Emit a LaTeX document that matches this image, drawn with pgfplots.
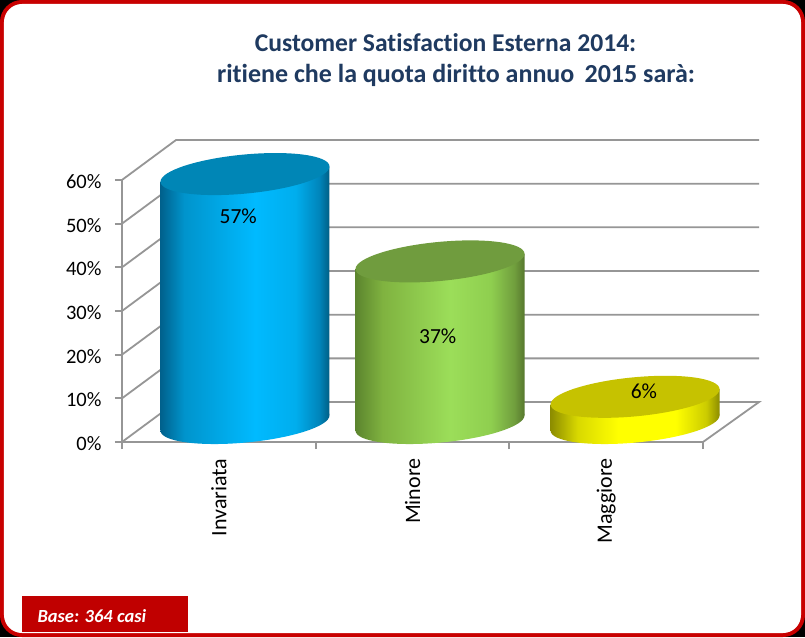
\documentclass[border=0pt]{standalone}
\usepackage{fontspec}
\setmainfont[Ligatures=NoCommon]{Carlito}
\usepackage{pgfplots}
\pgfplotsset{compat=1.18}

\definecolor{gridgray}{HTML}{969696}
\definecolor{framered}{HTML}{C80000}
\definecolor{boxred}{HTML}{C00000}
\definecolor{titleblue}{HTML}{1F3A60}
\definecolor{topblue}{HTML}{0086B6}
\definecolor{topgreen}{HTML}{709C3E}
\definecolor{topyellow}{HTML}{C6C200}

% cylinder side shadings (stops 25bp..75bp span the bar)
\pgfdeclarehorizontalshading{cylblue}{100bp}{rgb(0bp)=(0,0.38,0.55); rgb(25bp)=(0,0.38,0.55); rgb(32bp)=(0,0.58,0.8); rgb(53bp)=(0,0.73,1); rgb(65bp)=(0,0.68,0.93); rgb(72bp)=(0,0.52,0.73); rgb(75bp)=(0,0.37,0.52); rgb(100bp)=(0,0.37,0.52)}
\pgfdeclarehorizontalshading{cylgreen}{100bp}{rgb(0bp)=(0.36,0.52,0.18); rgb(25bp)=(0.36,0.52,0.18); rgb(33bp)=(0.5,0.7,0.25); rgb(53bp)=(0.61,0.87,0.35); rgb(65bp)=(0.56,0.81,0.31); rgb(72bp)=(0.44,0.62,0.24); rgb(75bp)=(0.34,0.47,0.18); rgb(100bp)=(0.34,0.47,0.18)}
\pgfdeclarehorizontalshading{cylyellow}{100bp}{rgb(0bp)=(0.55,0.55,0); rgb(25bp)=(0.55,0.55,0); rgb(33bp)=(0.85,0.85,0); rgb(45bp)=(1,1,0); rgb(62bp)=(1,1,0); rgb(71bp)=(0.8,0.8,0); rgb(75bp)=(0.55,0.55,0); rgb(100bp)=(0.55,0.55,0)}

% slanted ellipse, same for the top and the base of a cylinder
\newcommand{\cylpath}{\pgfpathellipse{\pgfpointorigin}{\pgfpoint{84.5pt}{7.6pt}}{\pgfpoint{0pt}{19.6pt}}}
\pgfdeclareplotmark{cyltop}{\cylpath\pgfusepathqfill}
\pgfdeclareplotmark{basea}{\cylpath\pgfshadepath{cylblue}{0}\pgfusepath{discard}}
\pgfdeclareplotmark{baseb}{\cylpath\pgfshadepath{cylgreen}{0}\pgfusepath{discard}}
\pgfdeclareplotmark{basec}{\cylpath\pgfshadepath{cylyellow}{0}\pgfusepath{discard}}

\begin{document}
\begin{tikzpicture}[x=1pt,y=1pt]
% frame
\fill[black] (-122,-195) rectangle (683,442);
\fill[framered, rounded corners=22pt] (-122,-195) rectangle (683,442);
\fill[white, rounded corners=18pt] (-118,-191) rectangle (679,438);
% title
\node[font=\bfseries\fontsize{25.6}{28}\selectfont, text=titleblue] at (323.5,399) {Customer Satisfaction Esterna 2014:};
\node[font=\bfseries\fontsize{26}{28}\selectfont, text=titleblue] at (334,367) {ritiene che la quota diritto annuo\, 2015 sarà:};
% base note
\fill[boxred] (-100,-190) rectangle (66,-154);
\node[anchor=west, font=\bfseries\itshape\fontsize{18.5}{20}\selectfont, text=white] at (-88,-174) {Base: 364 casi};

\begin{axis}[
  at={(0,0)}, anchor=south west,
  scale only axis, width=637pt, height=302pt,
  xmin=0, xmax=3.289, ymin=0, ymax=69.15,
  clip=false,
  axis line style={draw=none},
  tick align=outside,
  xtick pos=bottom, ytick pos=left,
  major tick length=7pt, minor tick length=7pt,
  tick style={draw=gridgray, line width=1.8pt},
  major x tick style={draw=none},
  ytick={0,10,...,60},
  yticklabels={0\%,10\%,20\%,30\%,40\%,50\%,60\%},
  xtick={0.5,1.5,2.5},
  minor xtick={0,1,2,3},
  xticklabels={Invariata,Minore,Maggiore},
  tick label style={font=\fontsize{20.5}{22}\selectfont, /pgf/number format/assume math mode=true},
  x tick label style={rotate=90, anchor=east, xshift=-6pt, font=\fontsize{22}{24}\selectfont},
  y tick label style={xshift=-10pt, yshift=-1.5pt},
  % labels last: marks are laid over anything typed inside the axis
  after end axis/.code={
    \node[font=\fontsize{21.5}{24}\selectfont] at (axis cs:0.6,51.75) {57\%};
    \node[font=\fontsize{21.5}{24}\selectfont] at (axis cs:1.63,24.3) {37\%};
    \node[font=\fontsize{21.5}{24}\selectfont] at (axis cs:2.695,11.7) {6\%};
  },
]
% walls and floor
\addplot[gridgray, line width=1.8pt] coordinates {(0,0) (0,60)};
\addplot[gridgray, line width=1.8pt] coordinates {(0,0) (3,0) (3.289,9.15) (0.279,9.15) (0,0)};
\addplot[gridgray, line width=1.8pt] coordinates {(0,10) (0.279,19.15) (3.289,19.15)};
\addplot[gridgray, line width=1.8pt] coordinates {(0,20) (0.279,29.15) (3.289,29.15)};
\addplot[gridgray, line width=1.8pt] coordinates {(0,30) (0.279,39.15) (3.289,39.15)};
\addplot[gridgray, line width=1.8pt] coordinates {(0,40) (0.279,49.15) (3.289,49.15)};
\addplot[gridgray, line width=1.8pt] coordinates {(0,50) (0.279,59.15) (3.289,59.15)};
\addplot[gridgray, line width=1.8pt] coordinates {(0,60) (0.279,69.15) (3.289,69.15)};

% Invariata
\addplot[only marks, mark=basea, yshift=19pt] coordinates {(0.635,0)};
\addplot[ybar, bar width=169pt, bar shift=0pt, draw=none, shading=cylblue, yshift=7.93pt, yslant=0.09] coordinates {(0.635,57)};
\addplot[only marks, mark=cyltop, mark options={fill=topblue, draw=none}, yshift=19pt] coordinates {(0.635,57)};
% Minore
\addplot[only marks, mark=baseb, yshift=19pt] coordinates {(1.642,0)};
\addplot[ybar, bar width=169pt, bar shift=0pt, draw=none, shading=cylgreen, yshift=-9.62pt, yslant=0.09] coordinates {(1.642,37)};
\addplot[only marks, mark=cyltop, mark options={fill=topgreen, draw=none}, yshift=19pt] coordinates {(1.642,37)};
% Maggiore
\addplot[only marks, mark=basec, yshift=19pt] coordinates {(2.649,0)};
\addplot[ybar, bar width=169pt, bar shift=0pt, draw=none, shading=cylyellow, yshift=-27.17pt, yslant=0.09] coordinates {(2.649,6)};
\addplot[only marks, mark=cyltop, mark options={fill=topyellow, draw=none}, yshift=19pt] coordinates {(2.649,6)};
\end{axis}
\end{tikzpicture}
\end{document}
